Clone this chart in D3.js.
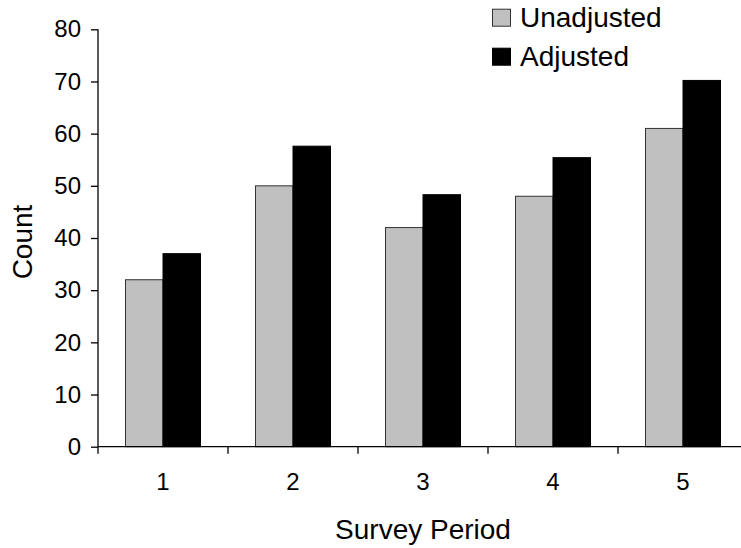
<!DOCTYPE html>
<html>
<head>
<meta charset="utf-8">
<script src="https://cdn.jsdelivr.net/npm/d3@7"></script>
<style>
  html, body { margin: 0; padding: 0; background: #fff; }
  svg { display: block; font-family: "Liberation Sans", Arial, sans-serif; }
</style>
</head>
<body>
<svg id="chart" width="741" height="548"></svg>
<script>
// Survey periods and the two count series
const periods = [1, 2, 3, 4, 5];
const seriesNames = ["Unadjusted", "Adjusted"];
const unadjusted = [32, 50, 42, 48, 61];
const adjusted = [37, 57.6, 48.3, 55.4, 70.2];
const yTicks = [0, 10, 20, 30, 40, 50, 60, 70, 80];

const colors = { Unadjusted: "#c0c0c0", Adjusted: "#000000" };

const svg = d3.select("#chart");
const plotLeft = 98, plotRight = 748, plotTop = 29.3, plotBottom = 446.7;

const x = d3.scaleBand().domain(periods).range([plotLeft, plotRight]).padding(0);
const groupW = 75;
const xs = d3.scaleBand().domain(seriesNames)
  .range([(x.bandwidth() - groupW) / 2, (x.bandwidth() + groupW) / 2]);
const y = d3.scaleLinear().domain([0, 80]).range([plotBottom, plotTop]);

const rows = periods.map((p, i) => ({ period: p, Unadjusted: unadjusted[i], Adjusted: adjusted[i] }));

// bars
const g = svg.append("g");
g.selectAll("g.period").data(rows).join("g")
  .attr("class", "period")
  .attr("transform", d => `translate(${x(d.period)},0)`)
  .selectAll("rect")
  .data(d => seriesNames.map(k => ({ key: k, value: d[k] })))
  .join("rect")
  .attr("x", d => xs(d.key))
  .attr("width", xs.bandwidth())
  .attr("y", d => y(d.value))
  .attr("height", d => y(0) - y(d.value))
  .attr("fill", d => colors[d.key])
  .attr("stroke", d => d.key === "Unadjusted" ? "#333" : "#000")
  .attr("stroke-width", 1);

// y axis
const yAxis = svg.append("g")
  .attr("transform", `translate(${plotLeft},0)`)
  .call(d3.axisLeft(y).tickValues(yTicks).tickSize(7).tickSizeOuter(0).tickPadding(10));
yAxis.select(".domain").attr("d", `M0,${plotTop}V${plotBottom + 7}`).attr("stroke", "#000").attr("stroke-width", 1.3);
yAxis.selectAll(".tick line").attr("stroke", "#000").attr("stroke-width", 1.3);
yAxis.selectAll(".tick text").attr("font-size", 24).attr("fill", "#000")
  .attr("font-family", "Liberation Sans, Arial, sans-serif");

// x axis: ticks on band edges, labels at band centres
const xAxisG = svg.append("g").attr("transform", `translate(0,${plotBottom})`);
xAxisG.append("line").attr("x1", plotLeft).attr("x2", plotRight)
  .attr("stroke", "#000").attr("stroke-width", 1.3);
const edges = periods.slice(1).map(p => x(p));
xAxisG.selectAll("line.edge").data(edges).join("line")
  .attr("class", "edge")
  .attr("x1", d => d).attr("x2", d => d).attr("y1", 0).attr("y2", 7)
  .attr("stroke", "#000").attr("stroke-width", 1.3);
xAxisG.selectAll("text").data(periods).join("text")
  .attr("x", d => x(d) + x.bandwidth() / 2)
  .attr("y", 43.3)
  .attr("text-anchor", "middle")
  .attr("font-size", 24)
  .text(d => d);

// axis titles
svg.append("text")
  .attr("x", (plotLeft + plotRight) / 2).attr("y", 539.3)
  .attr("text-anchor", "middle").attr("font-size", 28)
  .text("Survey Period");
svg.append("text")
  .attr("transform", "translate(31.5,242) rotate(-90)")
  .attr("text-anchor", "middle").attr("font-size", 28)
  .text("Count");

// legend
const legend = svg.append("g");
const legendItems = legend.selectAll("g").data(seriesNames).join("g")
  .attr("transform", (d, i) => `translate(492,${26.7 + i * 39})`);
legendItems.append("rect")
  .attr("x", 0.5).attr("y", -17.5).attr("width", 18).attr("height", 17)
  .attr("fill", d => colors[d]).attr("stroke", d => d === "Unadjusted" ? "#333" : "#000");
legendItems.append("text")
  .attr("x", 28).attr("y", 0)
  .attr("font-size", 28)
  .text(d => d);
</script>
</body>
</html>
